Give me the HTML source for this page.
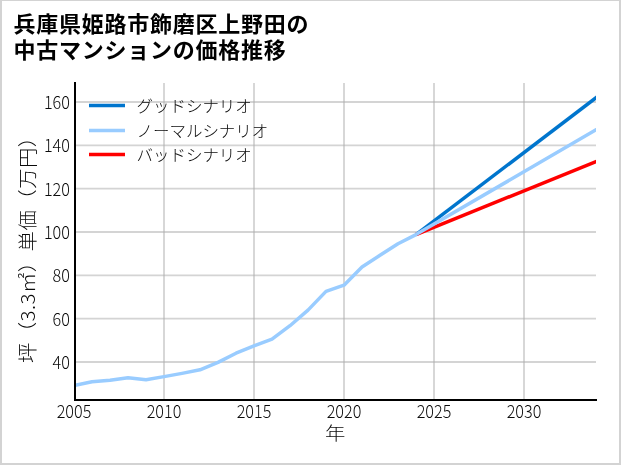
<!DOCTYPE html>
<html lang="ja">
<head>
<meta charset="utf-8">
<title>兵庫県姫路市飾磨区上野田の中古マンションの価格推移</title>
<style>
html,body{margin:0;padding:0;background:#fff;}
body{width:621px;height:465px;overflow:hidden;position:relative;}
svg{display:block;position:absolute;left:0;top:0;}
.frame{position:absolute;left:0;top:0;width:617px;height:462px;border-style:solid;border-color:#d3d3d3;border-width:1px 2px 2px 2px;}
text{font-family:"Noto Sans CJK JP","Liberation Sans",sans-serif;fill:#0a0a0a;}
.title{font-weight:700;font-size:22px;letter-spacing:0.75px;fill:#000;}
.tick text{font-size:18px;font-weight:300;}
.legend text{font-size:16px;font-weight:300;}
.axlabel{font-size:20px;font-weight:300;}
.ylab{font-size:20.4px;letter-spacing:0.47px;}
.grid line{stroke:#b0b0b0;stroke-opacity:0.54;stroke-width:1.85;}
</style>
</head>
<body>
<svg width="621" height="465" viewBox="0 0 621 465">
<rect x="0" y="0" width="621" height="465" fill="#fff"/>
<g class="grid">
<line x1="75" x2="596" y1="362.00" y2="362.00"/>
<line x1="75" x2="596" y1="318.67" y2="318.67"/>
<line x1="75" x2="596" y1="275.33" y2="275.33"/>
<line x1="75" x2="596" y1="232.00" y2="232.00"/>
<line x1="75" x2="596" y1="188.67" y2="188.67"/>
<line x1="75" x2="596" y1="145.33" y2="145.33"/>
<line x1="75" x2="596" y1="102.00" y2="102.00"/>
<line x1="164.0" x2="164.0" y1="83" y2="400"/>
<line x1="254.0" x2="254.0" y1="83" y2="400"/>
<line x1="344.0" x2="344.0" y1="83" y2="400"/>
<line x1="434.0" x2="434.0" y1="83" y2="400"/>
<line x1="524.0" x2="524.0" y1="83" y2="400"/>
</g>
<clipPath id="ax"><rect x="74" y="83" width="522" height="317"/></clipPath>
<g fill="none" stroke-width="3.5" stroke-linejoin="round" stroke-linecap="butt" clip-path="url(#ax)">
<polyline points="416.0,234.6 614,84.12" stroke="#0075cd"/>
<polyline points="416.0,234.6 614,154.30" stroke="#ff0000"/>
<polyline points="74.0,385.6 92.0,381.8 110.0,380.2 128.0,377.7 146.0,379.8 164.0,376.6 182.0,373.4 200.0,369.8 218.0,362.4 236.0,353.2 254.0,345.8 272.0,339.2 290.0,325.7 308.0,310.1 326.0,291.4 344.0,285.2 362.0,267.0 380.0,255.3 398.0,243.7 416.0,234.6 614.0,119.3" stroke="#99ccff"/>
</g>
<rect x="74" y="82" width="2" height="319" fill="#000"/>
<rect x="74" y="399" width="523" height="2" fill="#000"/>
<g class="tick">
<text transform="translate(69.9,369.1) scale(0.9,1)" text-anchor="end">40</text>
<text transform="translate(69.9,325.8) scale(0.9,1)" text-anchor="end">60</text>
<text transform="translate(69.9,282.4) scale(0.9,1)" text-anchor="end">80</text>
<text transform="translate(69.9,239.1) scale(0.9,1)" text-anchor="end">100</text>
<text transform="translate(69.9,195.8) scale(0.9,1)" text-anchor="end">120</text>
<text transform="translate(69.9,152.4) scale(0.9,1)" text-anchor="end">140</text>
<text transform="translate(69.9,109.1) scale(0.9,1)" text-anchor="end">160</text>
<text transform="translate(74.0,418.2) scale(0.9,1)" text-anchor="middle">2005</text>
<text transform="translate(164.0,418.2) scale(0.9,1)" text-anchor="middle">2010</text>
<text transform="translate(254.0,418.2) scale(0.9,1)" text-anchor="middle">2015</text>
<text transform="translate(344.0,418.2) scale(0.9,1)" text-anchor="middle">2020</text>
<text transform="translate(434.0,418.2) scale(0.9,1)" text-anchor="middle">2025</text>
<text transform="translate(524.0,418.2) scale(0.9,1)" text-anchor="middle">2030</text>
</g>
<g class="legend">
<line x1="89" x2="125" y1="105.5" y2="105.5" stroke="#0075cd" stroke-width="3.33"/>
<line x1="89" x2="125" y1="130.5" y2="130.5" stroke="#99ccff" stroke-width="3.33"/>
<line x1="89" x2="125" y1="154.5" y2="154.5" stroke="#ff0000" stroke-width="3.33"/>
<text transform="translate(136.5,112) scale(1.03,1)">グッドシナリオ</text>
<text transform="translate(136.5,136.6) scale(1.03,1)">ノーマルシナリオ</text>
<text transform="translate(136.5,161.3) scale(1.03,1)">バッドシナリオ</text>
</g>
<text class="axlabel" transform="translate(335.2,440) scale(1,0.9)" style="font-size:20.4px" text-anchor="middle">年</text>
<text class="axlabel ylab" transform="translate(34.6,244.7) rotate(-90) scale(1,0.937)" text-anchor="middle">坪（3.3㎡）単価（万円）</text>
<text class="title" x="13.4" y="32.0">兵庫県姫路市飾磨区上野田の</text>
<text class="title" x="13.4" y="58.4">中古マンションの価格推移</text>
</svg>
<div class="frame"></div>
</body>
</html>
